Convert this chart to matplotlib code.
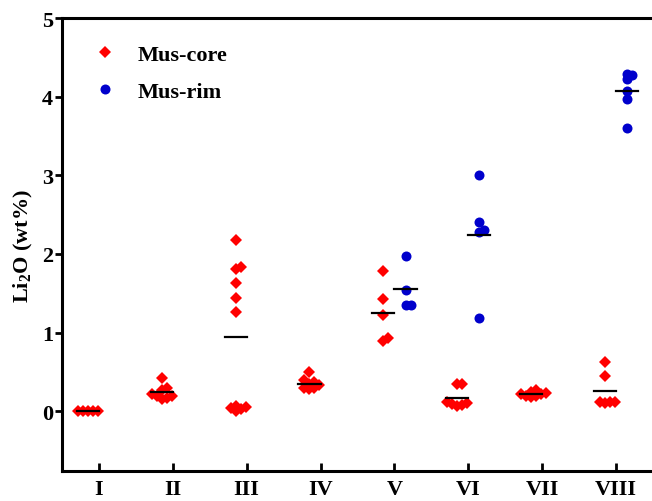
import matplotlib
matplotlib.use("Agg")
import matplotlib.pyplot as plt
import numpy as np

plt.rcParams.update({
    "font.family": "Liberation Serif",
    "font.weight": "bold",
    "axes.labelweight": "bold",
    "font.size": 16,
    "mathtext.fontset": "custom",
    "mathtext.rm": "Liberation Serif:bold",
    "mathtext.bf": "Liberation Serif:bold",
})

# ---- data (Li2O wt%)
groups = ["I", "II", "III", "IV", "V", "VI", "VII", "VIII"]

core_I = [0.00, 0.00, 0.00, 0.00, 0.00]
core_II = [0.42, 0.29, 0.27, 0.22, 0.20, 0.19, 0.17, 0.16]
core_III = [2.18, 1.84, 1.81, 1.63, 1.44, 1.26, 0.07, 0.04, 0.00, 0.03, 0.06]
core_IV = [0.50, 0.40, 0.37, 0.35, 0.33, 0.30, 0.28, 0.29]
core_V = [1.78, 1.43, 1.22, 0.93, 0.89]
core_VI = [0.35, 0.35, 0.12, 0.10, 0.09, 0.07, 0.08]
core_VII = [0.27, 0.25, 0.23, 0.22, 0.20, 0.19, 0.18, 0.22]
core_VIII = [0.63, 0.45, 0.12, 0.12, 0.11, 0.12]

rim_V = [1.97, 1.54, 1.35, 1.35]
rim_VI = [3.01, 2.40, 2.31, 2.28, 1.18]
rim_VIII = [4.29, 4.28, 4.22, 4.07, 3.97, 3.60]

core = [core_I, core_II, core_III, core_IV, core_V, core_VI, core_VII, core_VIII]
rim = {"V": rim_V, "VI": rim_VI, "VIII": rim_VIII}

RED = "#FF0000"
BLUE = "#0000CC"
SHIFT = 0.15      # core left of tick, rim right of tick
HALF = 0.15       # half length of mean bar


def swarm(ax, y, step_px=5.0):
    """Greedy beeswarm offsets (data units) for one column of points."""
    y = np.asarray(y, dtype=float)
    pts = ax.transData.transform(np.column_stack([np.zeros(len(y)), y]))
    ypx = pts[:, 1]
    x0 = ax.transData.transform([[0, 0], [1, 0]])
    px_per_unit = x0[1, 0] - x0[0, 0]
    placed = []
    off = np.zeros(len(y))
    for i in np.argsort(ypx, kind="stable"):
        k = 0
        done = False
        while not done:
            cands = [0.0] if k == 0 else [k * step_px, -k * step_px]
            for c in cands:
                if all(np.hypot(c - px, ypx[i] - py) >= step_px - 1e-6 for px, py in placed):
                    placed.append((c, ypx[i]))
                    off[i] = c / px_per_unit
                    done = True
                    break
            k += 1
    return off


fig = plt.figure(figsize=(6.52, 5.02), dpi=100)
ax = fig.add_axes([62 / 652, 30 / 502, 591 / 652, 453 / 502])
ax.set_xlim(0.5, 8.5)
ax.set_ylim(-0.76, 5)

for i, (g, vals) in enumerate(zip(groups, core)):
    xc = i + 1 - SHIFT
    ax.plot(xc + swarm(ax, vals), vals, "D", color=RED, ms=6.2, mew=0, ls="none",
            label="Mus-core" if i == 0 else None, zorder=3)
    ax.plot([xc - HALF, xc + HALF], [np.mean(vals)] * 2, color="black", lw=1.6, zorder=4)

first = True
for g, vals in rim.items():
    xr = groups.index(g) + 1 + SHIFT
    ax.plot(xr + swarm(ax, vals), vals, "o", color=BLUE, ms=7.2, mew=0, ls="none",
            label="Mus-rim" if first else None, zorder=3)
    ax.plot([xr - HALF, xr + HALF], [np.mean(vals)] * 2, color="black", lw=1.6, zorder=4)
    first = False

ax.set_xticks(range(1, len(groups) + 1))
ax.set_xticklabels(groups)
ax.set_yticks(range(0, 6))
ax.tick_params(axis="x", direction="in", length=6, width=2, pad=6)
ax.tick_params(axis="y", direction="out", length=5, width=2, pad=1.5)
for s in ["left", "bottom", "top"]:
    ax.spines[s].set_linewidth(2.2)
ax.spines["right"].set_visible(False)
ax.set_ylabel(r"Li$_{\mathbf{2}}$O (wt%)", labelpad=5)

ax.legend(loc="upper left", bbox_to_anchor=(0.0355, 0.942), frameon=False,
          borderpad=0, borderaxespad=0, handletextpad=0.45, labelspacing=0.73,
          numpoints=1)

fig.savefig("out.png", dpi=100)
